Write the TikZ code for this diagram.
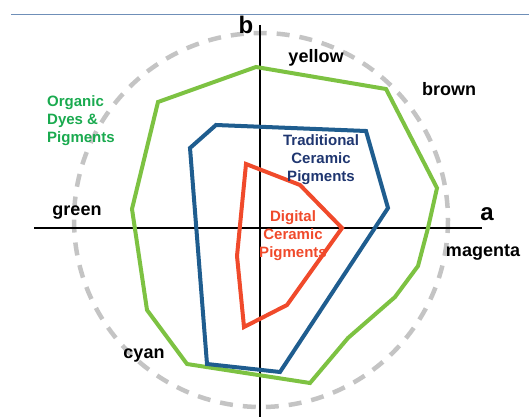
\documentclass[tikz,border=0pt]{standalone}
\usepackage{fontspec}
\setmainfont{Liberation Sans}
\begin{document}
\begin{tikzpicture}[x=1pt,y=-1pt,
  lab/.style={font=\bfseries\fontsize{18}{18}\selectfont, text=black, inner sep=0pt},
  grp/.style={font=\bfseries\fontsize{15}{18}\selectfont, inner sep=0pt, align=center},
  poly/.style={line width=4pt, line join=miter},
  axisline/.style={line width=1.4pt, black}]
\definecolor{gline}{HTML}{7DC242}
\definecolor{bline}{HTML}{1F5D8F}
\definecolor{rline}{HTML}{F04A2B}
\definecolor{gtext}{HTML}{1AAA4F}
\definecolor{btext}{HTML}{1F3670}
\definecolor{rtext}{HTML}{F04A2B}
\definecolor{circ}{HTML}{C4C4C4}
\definecolor{topline}{HTML}{6F8FB8}
\useasboundingbox (0,0) rectangle (529,417);
% top rule
\draw[topline, line width=1pt] (11,15) -- (529,15);
% dashed circle
\draw[circ, line width=4.5pt, dash pattern=on 13pt off 10pt] (261,220) circle [radius=187];
% axes
\draw[axisline] (260,25) -- (260,417);
\draw[axisline] (34,228) -- (482,228);
% green polygon
\draw[poly, gline] (256,67) -- (386,89) -- (437,188) -- (428,228) -- (418,266) -- (395,297) -- (348,338) -- (310,383) -- (187,364) -- (147,310) -- (132,209) -- (158,102) -- cycle;
% blue polygon
\draw[poly, bline] (216,125) -- (366,131) -- (388,208) -- (280,372) -- (207,364) -- (190,148) -- cycle;
% red polygon
\draw[poly, rline] (246,164) -- (300,185) -- (342,228) -- (287,305) -- (244,327) -- (237,256) -- cycle;
% axis labels
\node[font=\bfseries\fontsize{24}{24}\selectfont, inner sep=0pt] (b) at (246,25) {b};
\node[font=\bfseries\fontsize{24}{24}\selectfont, inner sep=0pt] (a) at (487,214) {a};
% colour labels
\node[lab] (yellow) at (316,58) {yellow};
\node[lab] (brown) at (449,89) {brown};
\node[lab] (green) at (77,213) {green};
\node[lab] (magenta) at (483,253) {magenta};
\node[lab] (cyan) at (144,356) {cyan};
% group labels
\node[grp, text=gtext, align=left, anchor=west] (org) at (47,121) {Organic\\Dyes \&\\Pigments};
\node[grp, text=btext] (trad) at (321,160) {Traditional\\Ceramic\\Pigments};
\node[grp, text=rtext] (dig) at (293,236) {Digital\\Ceramic\\Pigments};
\end{tikzpicture}
\end{document}
